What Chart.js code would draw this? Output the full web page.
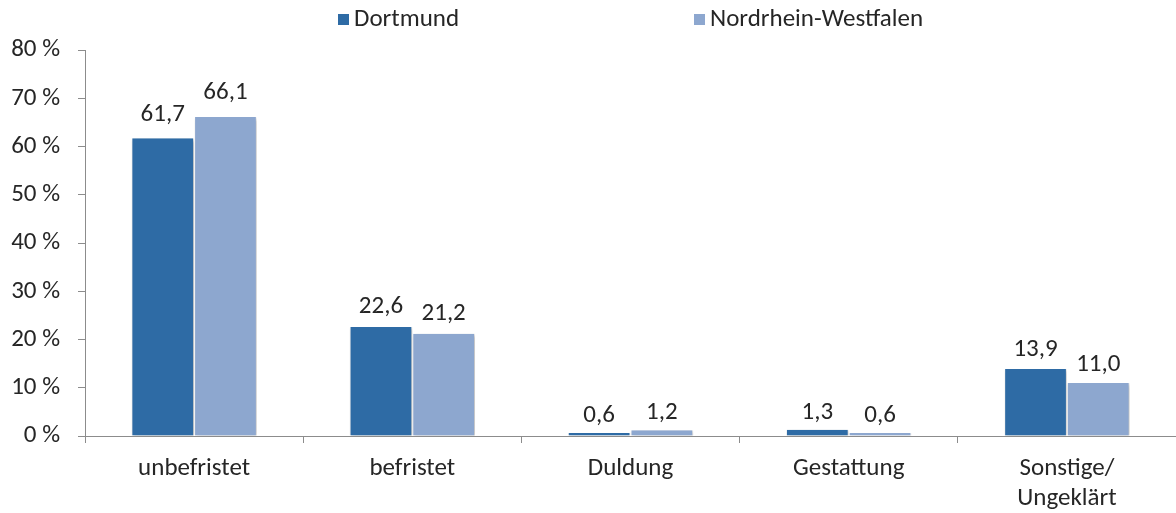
<!DOCTYPE html>
<html>
<head>
<meta charset="utf-8">
<style>
  html, body { margin: 0; padding: 0; background: #ffffff; }
  #wrap { position: relative; width: 1176px; height: 513px; }
</style>
<script src="https://cdn.jsdelivr.net/npm/chart.js@4.4.1/dist/chart.umd.min.js"></script>
</head>
<body>
<div id="wrap"><canvas id="c" width="1176" height="513"></canvas></div>
<script>
const categories = ['unbefristet', 'befristet', 'Duldung', 'Gestattung', ['Sonstige/', 'Ungeklärt']];
const seriesNames = ['Dortmund', 'Nordrhein-Westfalen'];
const dortmund = [61.7, 22.6, 0.6, 1.3, 13.9];
const nrw = [66.1, 21.2, 1.2, 0.6, 11.0];
const yTicks = [0, 10, 20, 30, 40, 50, 60, 70, 80];

const FONT = "Carlito, Calibri, Lato, 'Noto Sans', sans-serif";
const FS = 25;
const TEXT = '#262626';
const AXIS = '#8c8c8c';
const colors = ['#2e6ba5', '#8da7cf'];

function fmt(v) { return v.toFixed(1).replace('.', ','); }

const effectsPlugin = {
  id: 'effects',
  beforeDatasetsDraw(chart) {
    const ctx = chart.ctx;
    ctx.save();
    ctx.shadowColor = 'rgba(0,0,0,0.28)';
    ctx.shadowBlur = 4;
    ctx.shadowOffsetX = 1.5;
    ctx.shadowOffsetY = 1.5;
  },
  afterDatasetsDraw(chart) {
    const ctx = chart.ctx;
    ctx.restore();
    ctx.save();
    ctx.font = FS + 'px ' + FONT;
    ctx.fillStyle = TEXT;
    ctx.textAlign = 'center';
    ctx.textBaseline = 'alphabetic';
    chart.data.datasets.forEach((ds, di) => {
      const meta = chart.getDatasetMeta(di);
      meta.data.forEach((bar, i) => {
        const v = ds.data[i];
        const off = 11 + v * 0.11;
        ctx.fillText(fmt(v), bar.x, bar.y - off);
      });
    });
    ctx.restore();
  },
  afterDraw(chart) {
    const ctx = chart.ctx;
    ctx.save();
    ctx.font = FS + 'px ' + FONT;
    ctx.textBaseline = 'middle';
    ctx.textAlign = 'left';
    const xs = [338, 694];
    seriesNames.forEach((name, i) => {
      ctx.fillStyle = colors[i];
      ctx.fillRect(xs[i], 14, 11, 11);
      ctx.fillStyle = TEXT;
      ctx.fillText(name, xs[i] + 16, 20);
    });
    ctx.restore();
  }
};

new Chart(document.getElementById('c'), {
  type: 'bar',
  data: {
    labels: categories,
    datasets: [
      { label: seriesNames[0], data: dortmund, backgroundColor: colors[0],
        borderColor: '#ffffff', borderWidth: { left: 1, right: 1, top: 0, bottom: 0 }, borderSkipped: false,
        categoryPercentage: 0.575, barPercentage: 1.0 },
      { label: seriesNames[1], data: nrw, backgroundColor: colors[1],
        borderColor: '#ffffff', borderWidth: { left: 1, right: 1, top: 0, bottom: 0 }, borderSkipped: false,
        categoryPercentage: 0.575, barPercentage: 1.0 }
    ]
  },
  options: {
    responsive: false,
    animation: false,
    devicePixelRatio: 1,
    layout: { padding: { top: 50, left: 0, right: 0, bottom: 0 } },
    plugins: { legend: { display: false }, tooltip: { enabled: false } },
    scales: {
      x: {
        offset: true,
        grid: { display: true, drawOnChartArea: false, drawTicks: true, tickLength: 7, color: AXIS, offset: true },
        border: { display: true, color: AXIS, width: 1 },
        ticks: { color: TEXT, font: { family: FONT, size: FS, lineHeight: 1.2 }, padding: 11, maxRotation: 0, autoSkip: false },
        afterFit(scale) { scale.height = 77; }
      },
      y: {
        min: 0, max: 80,
        afterBuildTicks(scale) { scale.ticks = yTicks.map(v => ({ value: v })); },
        grid: { display: true, drawOnChartArea: false, drawTicks: true, tickLength: 7, color: AXIS },
        border: { display: true, color: AXIS, width: 1 },
        ticks: { color: TEXT, font: { family: FONT, size: FS }, padding: 18, callback: v => v + ' %' },
        afterFit(scale) { scale.width = 85; }
      }
    }
  },
  plugins: [effectsPlugin]
});
</script>
</body>
</html>
